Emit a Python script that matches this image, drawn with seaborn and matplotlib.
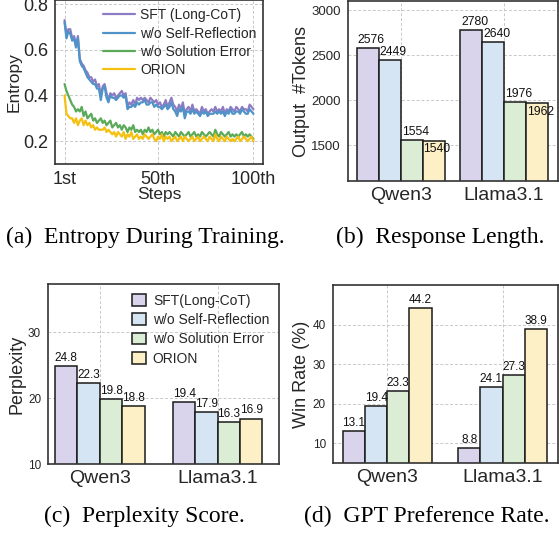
import numpy as np
import pandas as pd
import matplotlib
matplotlib.use("Agg")
import matplotlib.pyplot as plt
import seaborn as sns

# ---------------- data ----------------
steps = list(range(1, 101))
sft_entropy = [
    0.73, 0.67, 0.69, 0.69, 0.65, 0.66, 0.62, 0.66, 0.56, 0.54,
    0.53, 0.51, 0.50, 0.48, 0.48, 0.46, 0.47, 0.44, 0.45, 0.40,
    0.44, 0.45, 0.41, 0.38, 0.41, 0.40, 0.41, 0.39, 0.40, 0.41,
    0.42, 0.40, 0.41, 0.35, 0.37, 0.36, 0.38, 0.36, 0.39, 0.38,
    0.39, 0.38, 0.39, 0.38, 0.37, 0.39, 0.38, 0.37, 0.38, 0.36,
    0.37, 0.35, 0.36, 0.38, 0.35, 0.37, 0.39, 0.36, 0.35, 0.33,
    0.36, 0.34, 0.37, 0.32, 0.34, 0.35, 0.33, 0.36, 0.33, 0.34,
    0.33, 0.32, 0.35, 0.33, 0.34, 0.32, 0.33, 0.34, 0.33, 0.35,
    0.33, 0.34, 0.33, 0.35, 0.32, 0.34, 0.33, 0.35, 0.34, 0.33,
    0.35, 0.34, 0.33, 0.35, 0.34, 0.34, 0.33, 0.36, 0.35, 0.34,
]
noreflect_entropy = [
    0.72, 0.65, 0.68, 0.67, 0.64, 0.65, 0.61, 0.65, 0.55, 0.53,
    0.52, 0.50, 0.48, 0.47, 0.46, 0.45, 0.45, 0.43, 0.43, 0.38,
    0.43, 0.44, 0.39, 0.37, 0.40, 0.39, 0.39, 0.38, 0.39, 0.40,
    0.40, 0.39, 0.40, 0.34, 0.35, 0.35, 0.36, 0.35, 0.37, 0.36,
    0.37, 0.37, 0.38, 0.36, 0.36, 0.37, 0.37, 0.35, 0.36, 0.35,
    0.35, 0.34, 0.35, 0.36, 0.34, 0.35, 0.37, 0.34, 0.33, 0.31,
    0.34, 0.33, 0.35, 0.30, 0.33, 0.33, 0.32, 0.34, 0.32, 0.33,
    0.32, 0.31, 0.33, 0.32, 0.33, 0.31, 0.32, 0.32, 0.32, 0.33,
    0.32, 0.33, 0.32, 0.33, 0.31, 0.33, 0.32, 0.34, 0.32, 0.32,
    0.33, 0.33, 0.32, 0.34, 0.33, 0.32, 0.32, 0.34, 0.33, 0.32,
]
noerror_entropy = [
    0.45, 0.42, 0.40, 0.38, 0.36, 0.35, 0.33, 0.34, 0.33, 0.35,
    0.31, 0.33, 0.30, 0.31, 0.32, 0.29, 0.30, 0.28, 0.29, 0.30,
    0.28, 0.29, 0.27, 0.28, 0.29, 0.26, 0.27, 0.28, 0.26, 0.27,
    0.25, 0.27, 0.26, 0.24, 0.26, 0.25, 0.27, 0.24, 0.25, 0.24,
    0.25, 0.23, 0.25, 0.24, 0.26, 0.24, 0.25, 0.23, 0.24, 0.25,
    0.23, 0.24, 0.22, 0.24, 0.23, 0.24, 0.23, 0.22, 0.24, 0.23,
    0.22, 0.24, 0.23, 0.22, 0.23, 0.24, 0.22, 0.23, 0.24, 0.22,
    0.23, 0.22, 0.24, 0.23, 0.22, 0.23, 0.24, 0.23, 0.22, 0.25,
    0.23, 0.22, 0.24, 0.23, 0.22, 0.23, 0.24, 0.22, 0.23, 0.22,
    0.23, 0.22, 0.23, 0.24, 0.22, 0.23, 0.22, 0.23, 0.22, 0.21,
]
orion_entropy = [
    0.40, 0.32, 0.31, 0.30, 0.30, 0.28, 0.30, 0.27, 0.29, 0.30,
    0.27, 0.29, 0.27, 0.28, 0.26, 0.27, 0.25, 0.26, 0.25, 0.25,
    0.25, 0.26, 0.24, 0.25, 0.24, 0.23, 0.24, 0.22, 0.24, 0.23,
    0.22, 0.24, 0.21, 0.23, 0.22, 0.24, 0.21, 0.22, 0.23, 0.21,
    0.22, 0.21, 0.23, 0.22, 0.21, 0.22, 0.23, 0.21, 0.20, 0.22,
    0.21, 0.23, 0.20, 0.22, 0.21, 0.22, 0.20, 0.21, 0.22, 0.20,
    0.21, 0.22, 0.20, 0.22, 0.21, 0.20, 0.21, 0.22, 0.20, 0.21,
    0.22, 0.20, 0.21, 0.22, 0.21, 0.20, 0.22, 0.21, 0.20, 0.23,
    0.21, 0.20, 0.22, 0.21, 0.20, 0.22, 0.21, 0.20, 0.21, 0.20,
    0.21, 0.22, 0.20, 0.21, 0.22, 0.21, 0.20, 0.21, 0.22, 0.20,
]
line_labels = ["SFT (Long-CoT)", "w/o Self-Reflection", "w/o Solution Error", "ORION"]
bar_labels = ["SFT(Long-CoT)", "w/o Self-Reflection", "w/o Solution Error", "ORION"]

models = ["Qwen3", "Llama3.1"]
tokens_sft = [2576, 2780]
tokens_noreflect = [2449, 2640]
tokens_noerror = [1554, 1976]
tokens_orion = [1540, 1962]

ppl_sft = [24.8, 19.4]
ppl_noreflect = [22.3, 17.9]
ppl_noerror = [19.8, 16.3]
ppl_orion = [18.8, 16.9]

win_sft = [13.1, 8.8]
win_noreflect = [19.4, 24.1]
win_noerror = [23.3, 27.3]
win_orion = [44.2, 38.9]

captions = ["(a)  Entropy During Training.", "(b)  Response Length.",
            "(c)  Perplexity Score.", "(d)  GPT Preference Rate."]

# ---------------- style ----------------
sns.set_theme(style="whitegrid")
plt.rcParams["font.family"] = ["Liberation Sans", "DejaVu Sans"]
line_colors = ["#8d7cc4", "#4f93c9", "#5aaa5a", "#f5c010"]
bar_colors = ["#d9d3eb", "#d5e5f4", "#dcedd5", "#fdf0c6"]
spine_col = "#333333"

fig = plt.figure(figsize=(5.59, 5.39), dpi=100)

def style_axes(ax):
    for s in ax.spines.values():
        s.set_color(spine_col)
        s.set_linewidth(1.2)
        s.set_visible(True)
    ax.grid(True, linestyle=(0, (3, 2)), color="#c8c8c8", linewidth=0.7)
    ax.set_axisbelow(True)
    ax.set_facecolor("white")
    ax.tick_params(axis="both", which="both", length=3, width=0.8,
                   color=spine_col, pad=2)

# ---------------- (a) entropy ----------------
ax_a = fig.add_axes([0.0984, 0.6957, 0.3721, 0.3043])
df_a = pd.DataFrame({
    "step": steps * 4,
    "entropy": sft_entropy + noreflect_entropy + noerror_entropy + orion_entropy,
    "method": sum([[lab] * len(steps) for lab in line_labels], []),
})
sns.lineplot(data=df_a, x="step", y="entropy", hue="method",
             hue_order=line_labels, palette=line_colors, linewidth=1.6, ax=ax_a)
style_axes(ax_a)
ax_a.set_xlim(-4, 105)
ax_a.set_ylim(0.1, 0.818)
ax_a.set_xticks([1, 50, 100])
ax_a.set_xticklabels(["1st", "50th", "100th"], fontsize=13)
ax_a.set_yticks([0.2, 0.4, 0.6, 0.8])
ax_a.set_yticklabels(["0.2", "0.4", "0.6", "0.8"], fontsize=13)
ax_a.set_xlabel("Steps", fontsize=12.5, labelpad=-1)
ax_a.set_ylabel("Entropy", fontsize=12.5, labelpad=1)
ax_a.legend(loc="upper right", bbox_to_anchor=(1.01, 1.0), frameon=False,
            fontsize=10, handlelength=2.3, handletextpad=0.4, labelspacing=0.3,
            borderaxespad=0.2)

# ---------------- bar helper ----------------
def bar_panel(ax, vals, width, fmt, legend=False, below_last=False,
              label_size=8.5, dx=0.0):
    df = pd.DataFrame({
        "model": models * 4,
        "value": vals[0] + vals[1] + vals[2] + vals[3],
        "method": sum([[lab] * len(models) for lab in bar_labels], []),
    })
    sns.barplot(data=df, x="model", y="value", hue="method",
                hue_order=bar_labels, palette=bar_colors, width=width,
                edgecolor="#1a1a1a", linewidth=1.1, saturation=1, ax=ax,
                legend=legend)
    style_axes(ax)
    for ci, cont in enumerate(ax.containers):
        for p in cont.patches:
            h = p.get_height()
            x = p.get_x() + p.get_width() / 2
            if below_last and ci == 3:
                ax.annotate(fmt.format(h), (x, h), xytext=(dx, -1.5),
                            textcoords="offset points", ha="center", va="top",
                            fontsize=label_size, color="#111111")
            else:
                ax.annotate(fmt.format(h), (x, h), xytext=(dx, 1.5),
                            textcoords="offset points", ha="center", va="bottom",
                            fontsize=label_size, color="#111111")
    ax.set_xlabel("")
    ax.tick_params(axis="x", labelsize=14, pad=1)

# ---------------- (b) response length ----------------
ax_b = fig.add_axes([0.6225, 0.6642, 0.3755, 0.3338])
bar_panel(ax_b, [tokens_sft, tokens_noreflect, tokens_noerror, tokens_orion],
          0.85, "{:.0f}", below_last=True, label_size=8.7, dx=2.5)
ax_b.set_ylim(1100, 3100)
ax_b.set_xlim(-0.51, 1.52)
ax_b.set_yticks([1500, 2000, 2500, 3000])
ax_b.tick_params(axis="y", labelsize=9.5)
ax_b.set_ylabel("Output  #Tokens", fontsize=13, labelpad=1)

# ---------------- (c) perplexity ----------------
ax_c = fig.add_axes([0.0859, 0.1391, 0.4131, 0.3340])
bar_panel(ax_c, [ppl_sft, ppl_noreflect, ppl_noerror, ppl_orion],
          0.76, "{:.1f}", legend=True, label_size=8.5)
ax_c.set_ylim(10, 37.3)
ax_c.set_xlim(-0.44, 1.52)
ax_c.set_yticks([10, 20, 30])
ax_c.tick_params(axis="y", labelsize=8.5)
ax_c.set_ylabel("Perplexity", fontsize=13, labelpad=2)
ax_c.legend(loc="upper right", bbox_to_anchor=(1.0, 1.0), frameon=False,
            fontsize=10, handlelength=1.0, handleheight=0.9, handletextpad=0.5,
            labelspacing=0.38, borderaxespad=0.3)

# ---------------- (d) win rate ----------------
ax_d = fig.add_axes([0.5957, 0.1410, 0.4023, 0.3302])
bar_panel(ax_d, [win_sft, win_noreflect, win_noerror, win_orion],
          0.77, "{:.1f}", label_size=8.5)
ax_d.set_ylim(5, 50)
ax_d.set_xlim(-0.47, 1.48)
ax_d.set_yticks([10, 20, 30, 40])
ax_d.tick_params(axis="y", labelsize=8.5)
ax_d.set_ylabel("Win Rate (%)", fontsize=13, labelpad=2)

# ---------------- captions ----------------
cap_kw = dict(fontsize=17, family=["Liberation Serif", "DejaVu Serif"],
              ha="center", va="center", color="black")
fig.text(145 / 559, 1 - 237 / 539, captions[0], **cap_kw)
fig.text(440 / 559, 1 - 237 / 539, captions[1], **cap_kw)
fig.text(144 / 559, 1 - 516 / 539, captions[2], **cap_kw)
fig.text(427 / 559, 1 - 516 / 539, captions[3], **cap_kw)

fig.savefig("out.png", dpi=100)
